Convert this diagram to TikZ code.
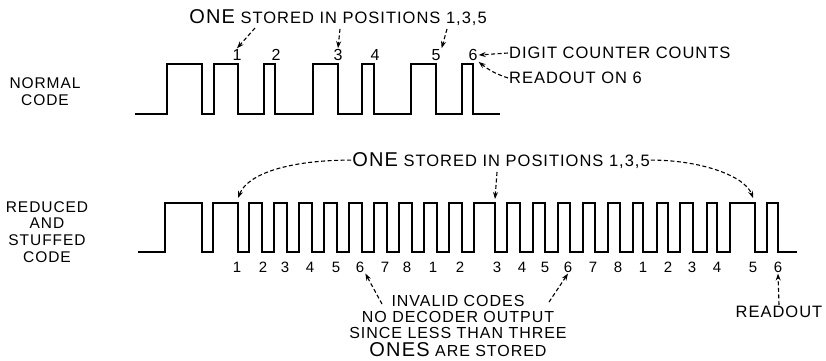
\documentclass[tikz,border=0pt]{standalone}
\usepackage{fontspec}
\setmainfont{Liberation Sans}[LetterSpace=6]
\usetikzlibrary{arrows.meta}
\tikzset{
  wave/.style={line width=2.4pt, line join=miter},
  lbl/.style={font=\fontsize{16.5}{17}\selectfont, inner sep=1pt},
  dig/.style={font=\fontsize{16}{17}\selectfont, inner sep=1pt},
  bdig/.style={font=\fontsize{15}{16}\selectfont, inner sep=1pt},
  ptr/.style={line width=1.1pt, dash pattern=on 4pt off 2.5pt, -{Stealth[length=7pt,width=5pt]}},
}
\newcommand\BigWord[1]{{\fontsize{20}{20}\selectfont #1}}
\begin{document}
\begin{tikzpicture}[x=1pt,y=-1pt]
\useasboundingbox (0,0) rectangle (826,360);
% left labels
\node[lbl, align=center, font=\fontsize{15.5}{17}\selectfont] (nc) at (45,91.5) {NORMAL\\CODE};
\node[lbl, align=center, font=\fontsize{15.5}{16.7}\selectfont] (rsc) at (47,232) {REDUCED\\AND\\STUFFED\\CODE};
% top waveform
\draw[wave] (135,114) \foreach \r/\f in {167/202,214/238,264/275,313/338,362/374,411/436,462/473} { -- (\r,114) -- (\r,64) -- (\f,64) -- (\f,114) } -- (500,114);
% top digits
\node[dig] (t1) at (237,55) {1};
\node[dig] (t2) at (276,55) {2};
\node[dig] (t3) at (338,55) {3};
\node[dig] (t4) at (375,55) {4};
\node[dig] (t5) at (436,55) {5};
\node[dig] (t6) at (473,55) {6};
% top title and arrows
\node[lbl, anchor=base] (ttitle) at (338,23.5) {\BigWord{ONE} STORED IN POSITIONS 1,3,5};
\coordinate (a1) at (255,28);
\coordinate (a3) at (340,29);
\coordinate (a5) at (447,29);
\draw[ptr] (a1) -- (t1.north);
\draw[ptr] (a3) -- (t3.north);
\draw[ptr] (a5) -- (t5.north east);
\node[lbl, anchor=west] (dcc) at (508,53) {DIGIT COUNTER COUNTS};
\draw[ptr] (dcc.west) -- (t6.east);
\node[lbl, anchor=west] (ro6) at (508,78) {READOUT ON 6};
\draw[ptr] (ro6.west) to[bend left=10] (t6.south east);
% bottom waveform
\draw[wave] (138,252) \foreach \r/\f in {165/202,213/238,249/262,274/287,299/312,324/337,349/362,374/387,399/412,424/437,449/462,474/495,507/520,533/545,558/570,583/595,608/620,633/643,657/668,680/693,707/717,730/755,767/778} { -- (\r,252) -- (\r,203) -- (\f,203) -- (\f,252) } -- (797,252);
% bottom digits
\foreach \d/\x [count=\k] in {1/237,2/263,3/285,4/310,5/336,6/360,7/385,8/407,1/433,2/460,3/497,4/522,5/545,6/568,7/593,8/618,1/643,2/668,3/692,4/717,5/753,6/778}
  \node[bdig] (b\k) at (\x,267) {\d};
% bottom title and arrows
\node[lbl, anchor=base] (btitle) at (501,166) {\BigWord{ONE} STORED IN POSITIONS 1,3,5};
\coordinate (p1) at (238,198);
\coordinate (p3) at (495,199);
\coordinate (p5) at (753,198);
\coordinate (bm) at (497,172);
\draw[ptr] (btitle.west) .. controls +(-60,0) and +(10,-25) .. (p1);
\draw[ptr] (btitle.east) .. controls +(50,0) and +(-8,-22) .. (p5);
\draw[ptr] (bm) -- (p3);
% invalid codes
\node[lbl, align=center, font=\fontsize{16}{16.3}\selectfont] (inv) at (458,326) {INVALID CODES\\NO DECODER OUTPUT\\SINCE LESS THAN THREE\\[1.5pt]\BigWord{ONES} ARE STORED};
\coordinate (il) at (382,304);
\coordinate (ir) at (549,302);
\draw[ptr] (il) -- (b6.south east);
\draw[ptr] (ir) -- (b14.south);
% readout
\node[lbl] (ro) at (779,312) {READOUT};
\draw[ptr] (ro.north) -- (b22.south);
\end{tikzpicture}
\end{document}
